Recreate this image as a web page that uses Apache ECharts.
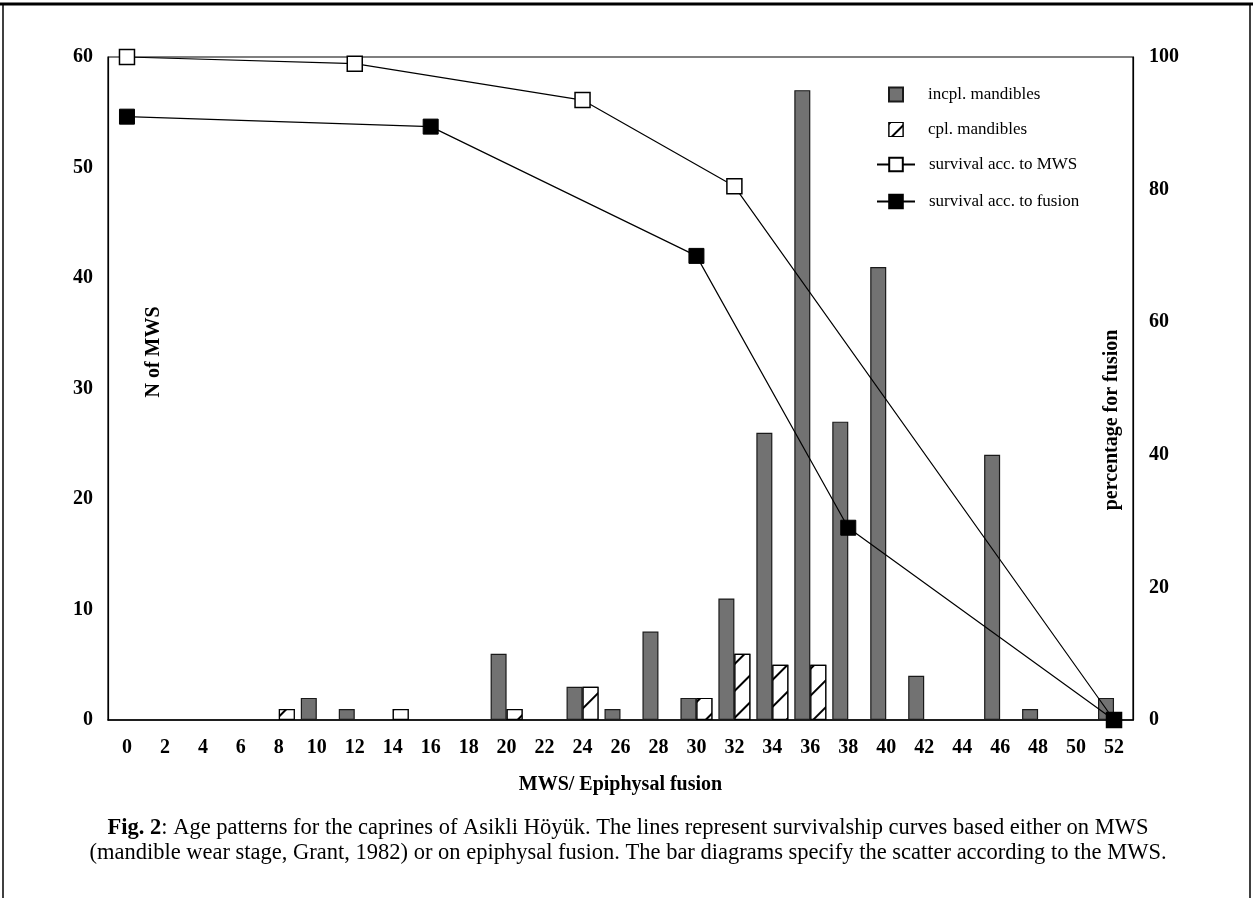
<!DOCTYPE html>
<html>
<head>
<meta charset="utf-8">
<script src="https://cdn.jsdelivr.net/npm/echarts@6/dist/echarts.min.js"></script>
<style>html,body{margin:0;padding:0;background:#fff}#c{width:1253px;height:898px}</style>
</head>
<body>
<div id="c"></div>
<script>
// ---- data ----
var categories = ['0','2','4','6','8','10','12','14','16','18','20','22','24','26','28','30','32','34','36','38','40','42','44','46','48','50','52'];
var incplMandibles = [null,null,null,null,null,2,1,null,null,null,6,null,3,1,8,2,11,26,57,27,41,4,null,24,1,null,2];
var cplMandibles   = [null,null,null,null,1,null,null,1,null,null,1,null,3,null,null,2,6,5,5,null,null,null,null,null,null,null,null];
var survivalMWS    = [100,null,null,null,null,null,99,null,null,null,null,null,93.5,null,null,null,80.5,null,null,null,null,null,null,null,null,null,0];
var survivalFusion = [91,null,null,null,null,null,null,null,89.5,null,null,null,null,null,null,70,null,null,null,29,null,null,null,null,null,null,0];
var leftTicks = {min:0, max:60, interval:10};
var rightTicks = {min:0, max:100, interval:20};

var serif = 'Liberation Serif';
var chart = echarts.init(document.getElementById('c'), null, {renderer:'canvas'});
var boldLbl = {fontFamily: serif, fontWeight: 'bold', fontSize: 20, color: '#000'};
var hatch = {symbol: 'rect', symbolSize: 1, dashArrayX: [1, 0], dashArrayY: [1.3, 17], rotation: -Math.PI / 4, color: '#000', backgroundColor: '#fff'};
var hatchLegend = {symbol: 'rect', symbolSize: 1, dashArrayX: [1, 0], dashArrayY: [1.5, 9], rotation: -Math.PI / 4, color: '#000', backgroundColor: '#fff'};

chart.setOption({
  animation: false,
  backgroundColor: '#fff',
  grid: {left: 108, right: 120, top: 57, bottom: 178, show: true, borderColor: '#000', borderWidth: 1.2, backgroundColor: 'transparent'},
  legend: [
    {
      data: ['incpl. mandibles', {name: 'cpl. mandibles', itemStyle: {color: '#fff', borderColor: '#000', borderWidth: 1.2, decal: hatchLegend}}], icon: 'rect',
      orient: 'vertical', left: 888, top: 86, padding: 0, itemWidth: 14, itemHeight: 14, itemGap: 18,
      textStyle: {fontFamily: serif, fontSize: 17, color: '#000', padding: [0,0,0,20]},
      selectedMode: false
    },
    {
      data: ['survival acc. to MWS', 'survival acc. to fusion'],
      orient: 'vertical', left: 876, top: 156, padding: 0, itemWidth: 38, itemHeight: 17, itemGap: 20,
      textStyle: {fontFamily: serif, fontSize: 17, color: '#000', padding: [0,0,0,9]},
      selectedMode: false
    }
  ],
  xAxis: {
    type: 'category', data: categories, boundaryGap: true,
    axisLine: {lineStyle: {color: '#000', width: 1.5}},
    axisTick: {show: false},
    axisLabel: Object.assign({margin: 18, interval: 0}, boldLbl),
    name: 'MWS/ Epiphysal fusion', nameLocation: 'middle', nameGap: 55,
    nameTextStyle: boldLbl
  },
  yAxis: [
    {
      type: 'value', min: leftTicks.min, max: leftTicks.max, interval: leftTicks.interval,
      axisLine: {show: true, lineStyle: {color: '#000', width: 1.2}},
      axisTick: {show: false}, splitLine: {show: false},
      axisLabel: Object.assign({margin: 15}, boldLbl)
    },
    {
      type: 'value', min: rightTicks.min, max: rightTicks.max, interval: rightTicks.interval,
      axisLine: {show: true, lineStyle: {color: '#000', width: 1.2}},
      axisTick: {show: false}, splitLine: {show: false},
      axisLabel: Object.assign({margin: 16}, boldLbl)
    }
  ],
  series: [
    {
      name: 'incpl. mandibles', type: 'bar', data: incplMandibles, barWidth: 16, barGap: '0%',
      itemStyle: {color: '#727272', borderColor: '#1a1a1a', borderWidth: 1.2}
    },
    {
      name: 'cpl. mandibles', type: 'bar', data: cplMandibles, barWidth: 16, barGap: '0%',
      itemStyle: {color: '#fff', borderColor: '#000', borderWidth: 1.2, decal: hatch}
    },
    {
      name: 'survival acc. to MWS', type: 'line', yAxisIndex: 1, data: survivalMWS, connectNulls: true,
      symbol: 'rect', symbolSize: 15, z: 5,
      lineStyle: {color: '#000', width: 1.2},
      itemStyle: {color: '#fff', borderColor: '#000', borderWidth: 1.5}
    },
    {
      name: 'survival acc. to fusion', type: 'line', yAxisIndex: 1, data: survivalFusion, connectNulls: true,
      symbol: 'rect', symbolSize: 15, z: 5,
      lineStyle: {color: '#000', width: 1.2},
      itemStyle: {color: '#000', borderColor: '#000', borderWidth: 1}
    }
  ],
  graphic: [
    {type: 'line', shape: {x1: 0, y1: 4, x2: 1253, y2: 4}, style: {stroke: '#000', lineWidth: 3}},
    {type: 'line', shape: {x1: 3, y1: 4, x2: 3, y2: 898}, style: {stroke: '#000', lineWidth: 1.5}},
    {type: 'line', shape: {x1: 1250, y1: 4, x2: 1250, y2: 898}, style: {stroke: '#000', lineWidth: 1.5}},
    {type: 'text', x: 154, y: 352, rotation: Math.PI / 2,
      style: {text: 'N of MWS', font: 'bold 20px "Liberation Serif"', fill: '#000', textAlign: 'center', textVerticalAlign: 'middle'}},
    {type: 'text', x: 1112, y: 420, rotation: Math.PI / 2,
      style: {text: 'percentage for fusion', font: 'bold 20px "Liberation Serif"', fill: '#000', textAlign: 'center', textVerticalAlign: 'middle'}},
    {type: 'text', x: 628, y: 816,
      style: {text: '{b|Fig. 2}: Age patterns for the caprines of Asikli Höyük. The lines represent survivalship curves based either on MWS\n(mandible wear stage, Grant, 1982) or on epiphysal fusion. The bar diagrams specify the scatter according to the MWS.',
        font: '22.5px "Liberation Serif"', fill: '#000', textAlign: 'center', lineHeight: 25,
        rich: {b: {fontFamily: serif, fontSize: 22.5, fontWeight: 'bold', fill: '#000', lineHeight: 25}}}}
  ]
});
</script>
</body>
</html>
